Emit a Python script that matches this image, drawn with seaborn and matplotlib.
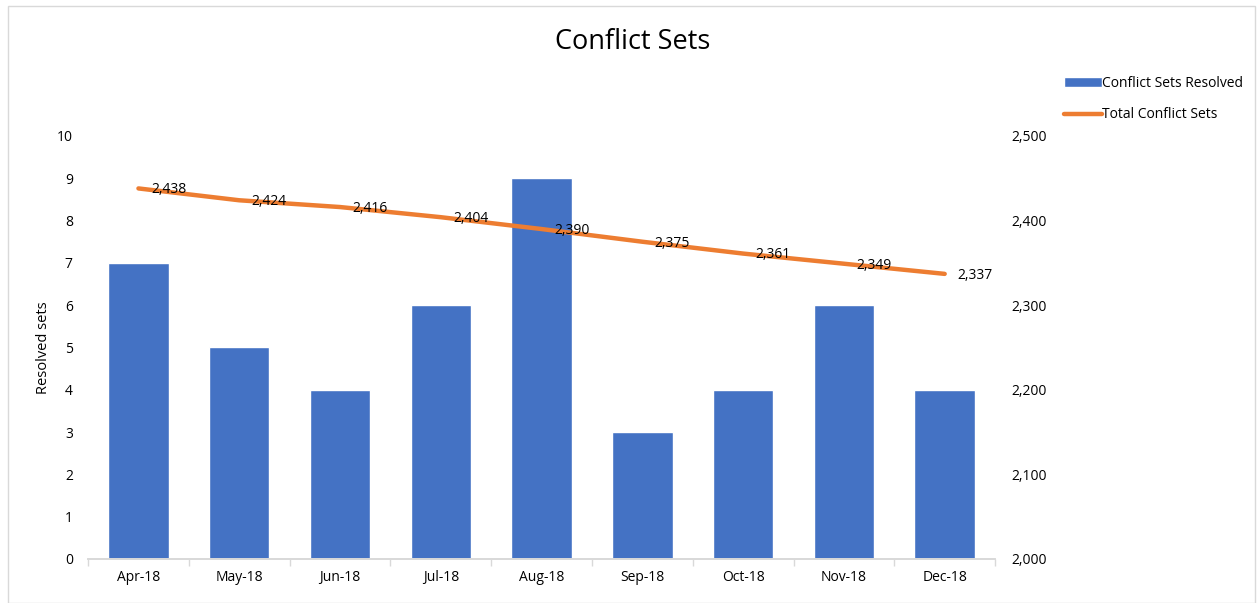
import numpy as np
import pandas as pd
import matplotlib.pyplot as plt
import seaborn as sns
from matplotlib.lines import Line2D
from matplotlib.patches import Patch, Rectangle

months = ["Apr-18", "May-18", "Jun-18", "Jul-18", "Aug-18", "Sep-18", "Oct-18", "Nov-18", "Dec-18"]
resolved = [7, 5, 4, 6, 9, 3, 4, 6, 4]
total_sets = [2438, 2424, 2416, 2404, 2390, 2375, 2361, 2349, 2337]

bar_color = "#4472C4"
line_color = "#ED7D31"

sns.set_theme(style="white")
plt.rcParams["font.family"] = ["Open Sans", "DejaVu Sans"]
plt.rcParams["text.color"] = "black"
plt.rcParams["axes.labelcolor"] = "black"
plt.rcParams["xtick.color"] = "black"
plt.rcParams["ytick.color"] = "black"

df = pd.DataFrame({"month": months, "resolved": resolved, "total": total_sets})
df["pos"] = np.arange(len(df))

fig = plt.figure(figsize=(12.58, 6.03), dpi=100)
ax = fig.add_axes([0.070, 0.073, 0.721, 0.7015])

sns.barplot(data=df, x="month", y="resolved", color=bar_color, saturation=1, width=0.6, ax=ax)
ax.set_ylim(0, 10)
ax.set_yticks(range(0, 11))
ax.set_xlim(-0.5, len(months) - 0.5)
ax.set_xlabel("")
ax.set_ylabel("Resolved sets", fontsize=10.5, labelpad=4)

ax2 = ax.twinx()
sns.lineplot(data=df, x="pos", y="total", color=line_color, linewidth=3.2, ax=ax2)
ax2.set_ylim(2000, 2500)
ax2.set_yticks(range(2000, 2501, 100))
ax2.set_yticklabels([f"{v:,}" for v in range(2000, 2501, 100)])
ax2.set_ylabel("")
ax2.set_xlabel("")
ax2.set_xlim(-0.5, len(months) - 0.5)

# data labels to the right of each line point
for x, v in zip(df["pos"], df["total"]):
    ax2.annotate(f"{v:,}", (x, v), xytext=(9, -1), textcoords="offset points",
                 ha="left", va="center", fontsize=10)

for a in (ax, ax2):
    for s in ("top", "left", "right"):
        a.spines[s].set_visible(False)
    a.spines["bottom"].set_color("#d9d9d9")
    a.tick_params(axis="y", length=0, labelsize=10)
ax.tick_params(axis="y", pad=11)
ax2.tick_params(axis="y", pad=12)

ax.set_xticks(np.arange(-0.5, len(months)), minor=True)
ax.tick_params(axis="x", which="major", length=0, labelsize=10, pad=8)
ax.tick_params(axis="x", which="minor", length=5, color="#d9d9d9", width=1, bottom=True)

fig.suptitle("Conflict Sets", x=0.503, y=0.953, fontsize=19.5)

handles = [Patch(facecolor=bar_color, label="Conflict Sets Resolved"),
           Line2D([0], [0], color=line_color, linewidth=3.2, label="Total Conflict Sets")]
fig.legend(handles=handles, loc="upper left", bbox_to_anchor=(0.836, 0.895), frameon=False,
           fontsize=10, handlelength=2.7, handletextpad=0.0, labelspacing=1.2)

fig.patches.append(Rectangle((0.0065, 0.0), 0.991, 0.99, transform=fig.transFigure,
                             fill=False, edgecolor="#d9d9d9", linewidth=1))

plt.savefig("out.png", dpi=100)
plt.close()
